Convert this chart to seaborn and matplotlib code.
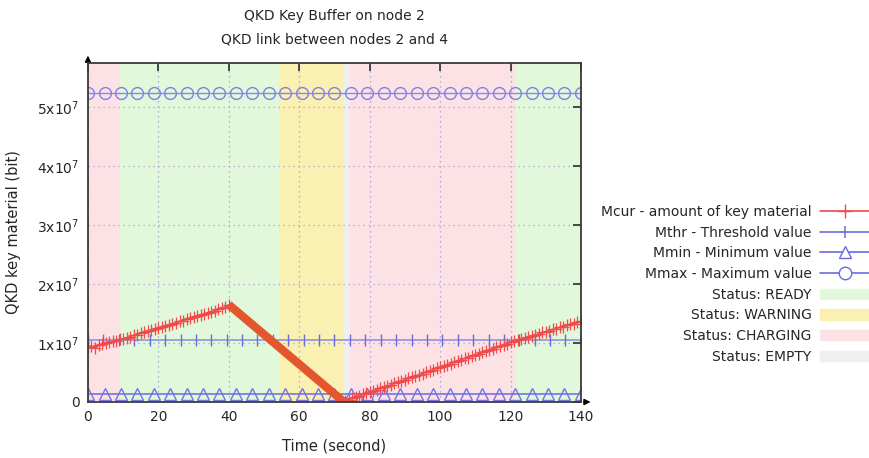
import matplotlib
matplotlib.use('Agg')
import matplotlib.pyplot as plt
import seaborn as sns
from matplotlib.lines import Line2D
from matplotlib.patches import Patch
from matplotlib.ticker import FuncFormatter

# Mcur: charging phase 0-40 s (bit)
t_rise1 = list(range(0, 41))
m_rise1 = [9.4e6, 9.5e6, 9.1e6, 9.6e6, 9.8e6, 10.0e6, 10.1e6, 10.3e6, 10.4e6, 10.6e6,
           10.7e6, 10.9e6, 11.1e6, 11.3e6, 11.4e6, 11.7e6, 11.8e6, 12.0e6, 12.2e6, 12.4e6,
           12.5e6, 12.8e6, 12.9e6, 13.1e6, 13.3e6, 13.4e6, 13.7e6, 13.8e6, 14.0e6, 14.2e6,
           14.4e6, 14.6e6, 14.7e6, 14.9e6, 15.1e6, 15.3e6, 15.5e6, 15.7e6, 15.9e6, 16.1e6,
           16.5e6]

# Mcur: consumption 40-72.5 s
t_drop = [40, 72.5]
m_drop = [16.5e6, 0.1e6]

# Mcur: recharging 73-140 s
t_rise2 = list(range(73, 141))
m_rise2 = [0.2e6, 0.4e6, 0.6e6, 0.9e6, 1.0e6, 1.3e6, 1.5e6, 1.7e6, 1.9e6, 2.1e6,
           2.3e6, 2.6e6, 2.7e6, 2.9e6, 3.2e6, 3.4e6, 3.5e6, 3.8e6, 4.0e6, 4.2e6,
           4.4e6, 4.6e6, 4.8e6, 5.1e6, 5.2e6, 5.5e6, 5.7e6, 5.9e6, 6.1e6, 6.3e6,
           6.5e6, 6.8e6, 6.9e6, 7.2e6, 7.4e6, 7.5e6, 7.8e6, 8.0e6, 8.2e6, 8.4e6,
           8.6e6, 8.9e6, 9.0e6, 9.3e6, 9.5e6, 9.6e6, 9.9e6, 10.1e6, 10.3e6, 10.5e6,
           10.6e6, 10.9e6, 11.0e6, 11.2e6, 11.4e6, 11.5e6, 11.8e6, 11.9e6, 12.1e6, 12.3e6,
           12.4e6, 12.7e6, 12.8e6, 13.0e6, 13.2e6, 13.3e6, 13.5e6, 13.7e6]

# threshold values (bit)
mthr = 10485760
mmin = 1400000
mmax = 52428800

# sample times of the threshold series
t_thr = [0, 4.4, 8.8, 13.1, 17.5, 21.9, 26.3, 30.6, 35, 39.4, 43.8, 48.1, 52.5, 56.9,
         61.3, 65.6, 70, 74.4, 78.8, 83.1, 87.5, 91.9, 96.3, 100.6, 105, 109.4, 113.8,
         118.1, 122.5, 126.9, 131.3, 135.6, 140]
t_lim = [0, 4.7, 9.3, 14, 18.7, 23.3, 28, 32.7, 37.3, 42, 46.7, 51.3, 56, 60.7, 65.3,
         70, 74.7, 79.3, 84, 88.7, 93.3, 98, 102.7, 107.3, 112, 116.7, 121.3, 126,
         130.7, 135.3, 140]

# status intervals (start, end, status)
status_start = [0, 9.1, 54.3, 72.7, 74.4, 121.6]
status_end = [9.1, 54.3, 72.7, 74.4, 121.6, 140]
status_name = ['CHARGING', 'READY', 'WARNING', 'EMPTY', 'CHARGING', 'READY']
status_color = {'READY': '#e2f8da', 'WARNING': '#f9f0b2', 'CHARGING': '#fde2e5', 'EMPTY': '#efefef'}

red = '#f04a4a'
blue = '#6b6be0'

sns.set_style('white')
plt.rcParams['font.family'] = ['DejaVu Sans']

fig = plt.figure(figsize=(8.7, 4.58), dpi=100)
ax = fig.add_axes([0.1011, 0.1223, 0.5667, 0.7401])

for s, e, n in zip(status_start, status_end, status_name):
    ax.axvspan(s, e, color=status_color[n], lw=0, zorder=0.2)

sns.lineplot(x=t_thr, y=[mthr] * len(t_thr), ax=ax, color='#8a8ae8', lw=1.1,
             marker='|', markersize=8, markeredgewidth=1.0, markeredgecolor=blue, zorder=3)
sns.lineplot(x=t_lim, y=[mmin] * len(t_lim), ax=ax, color=blue, lw=1.1,
             marker='^', markersize=8.5, markerfacecolor='none', markeredgewidth=1.0,
             markeredgecolor='#7474e4', zorder=3)
sns.lineplot(x=t_lim, y=[mmax] * len(t_lim), ax=ax, color='#8a8ae8', lw=1.0,
             marker='o', markersize=8.5, markerfacecolor='none', markeredgewidth=1.0,
             markeredgecolor='#8080e6', zorder=3)

sns.lineplot(x=t_rise1, y=m_rise1, ax=ax, color=red, lw=1.2, marker='+',
             markersize=9, markeredgewidth=0.9, markeredgecolor=red, zorder=4)
sns.lineplot(x=t_drop, y=m_drop, ax=ax, color='#e4562e', lw=6, zorder=4,
             solid_capstyle='butt')
sns.lineplot(x=t_rise2, y=m_rise2, ax=ax, color=red, lw=1.2, marker='+',
             markersize=9, markeredgewidth=0.9, markeredgecolor=red, zorder=4)

ax.set_xlim(0, 140)
ax.set_ylim(0, 5.75e7)
ax.set_xticks(range(0, 141, 20))
ax.set_yticks([0, 1e7, 2e7, 3e7, 4e7, 5e7])
ax.yaxis.set_major_formatter(FuncFormatter(
    lambda v, p: '0' if v == 0 else r'$%d\mathregular{x}10^{7}$' % round(v / 1e7)))

ax.set_axisbelow(True)
ax.grid(True, axis='x', linestyle=(0, (1, 3)), color='#9a9ade', lw=0.9)
ax.grid(True, axis='y', linestyle=(0, (1, 3)), color='#b59ccc', lw=0.9)

for sp in ax.spines.values():
    sp.set_color('#3a3a3a')
    sp.set_linewidth(1.3)
    sp.set_zorder(5)
ax.tick_params(direction='in', length=6, width=1.3, color='#3a3a3a',
               top=True, right=True, labelsize=10, pad=6)

# axis arrows
ax.annotate('', xy=(0, 1.03), xytext=(0, 1.0), xycoords='axes fraction',
            arrowprops=dict(arrowstyle='-|>', color='black', lw=1.0, mutation_scale=9))
ax.annotate('', xy=(1.025, 0), xytext=(1.0, 0), xycoords='axes fraction',
            arrowprops=dict(arrowstyle='-|>', color='black', lw=1.0, mutation_scale=9))

ax.set_title('QKD Key Buffer on node 2\nQKD link between nodes 2 and 4',
             fontsize=10, linespacing=1.9, pad=14)
ax.set_xlabel('Time (second)', fontsize=10.5, labelpad=10)
ax.set_ylabel('QKD key material (bit)', fontsize=10.5, labelpad=12)

handles = [
    Line2D([], [], color=red, lw=1.2, marker='+', markersize=10, markeredgewidth=1.0),
    Line2D([], [], color=blue, lw=1.2, marker='|', markersize=9, markeredgewidth=1.1),
    Line2D([], [], color=blue, lw=1.2, marker='^', markersize=9, markerfacecolor='white'),
    Line2D([], [], color=blue, lw=1.2, marker='o', markersize=9, markerfacecolor='white'),
    Patch(color=status_color['READY']),
    Patch(color=status_color['WARNING']),
    Patch(color=status_color['CHARGING']),
    Patch(color=status_color['EMPTY']),
]
labels = ['Mcur - amount of key material', 'Mthr - Threshold value',
          'Mmin - Minimum value', 'Mmax - Maximum value', 'Status: READY',
          'Status: WARNING', 'Status: CHARGING', 'Status: EMPTY']
fig.legend(handles, labels, loc='center right', bbox_to_anchor=(1.0, 0.379),
           frameon=False, markerfirst=False, numpoints=1, fontsize=10,
           handlelength=3.6, handleheight=0.75, handletextpad=0.6,
           labelspacing=0.48, borderpad=0, borderaxespad=0)

fig.savefig('out.png', dpi=100)
